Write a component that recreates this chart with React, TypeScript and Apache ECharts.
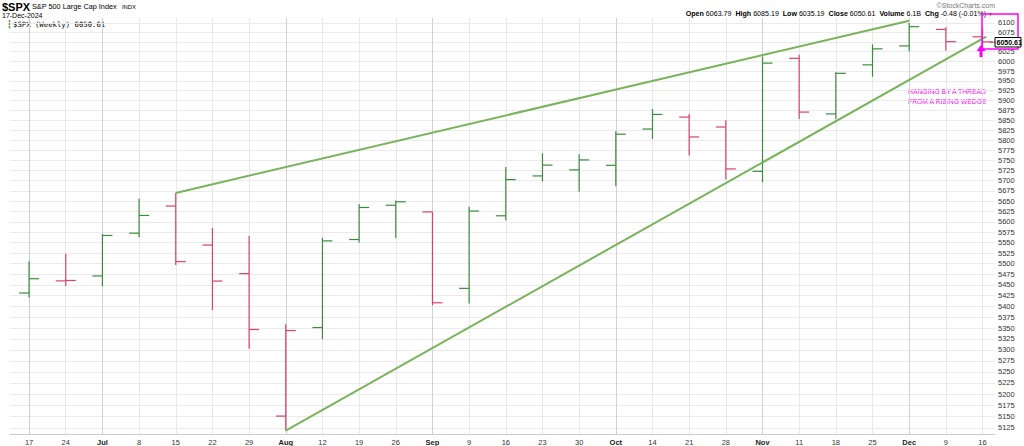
import React, { useEffect, useRef } from "react";
import * as echarts from "echarts";

const weekLabels = ["17","24","Jul","8","15","22","29","Aug","12","19","26","Sep","9","16","23","30","Oct","14","21","28","Nov","11","18","25","Dec","9","16"];
const monthStarts = ["Jul","Aug","Sep","Oct","Nov","Dec"];
const opens  = [5431.11,5459.58,5471.08,5572.75,5638.16,5544.32,5476.55,5151.14,5351.0,5557.5,5640.0,5623.89,5442.0,5614.5,5711.6,5726.4,5737.7,5828.0,5858.0,5833.0,5723.0,6008.0,5866.0,5991.0,6040.0,6083.0,6063.79];
const highs  = [5505.53,5523.64,5570.33,5655.56,5669.67,5585.5,5566.16,5358.6,5562.0,5643.2,5651.62,5623.89,5636.27,5733.57,5767.37,5765.1,5822.13,5878.46,5866.0,5850.0,6012.45,6017.31,5972.0,6044.17,6099.97,6088.51,6085.19];
const lows   = [5420.4,5447.25,5447.0,5563.0,5497.04,5390.95,5302.4,5119.26,5324.3,5550.5,5560.95,5402.62,5406.96,5603.0,5698.4,5673.0,5686.0,5803.0,5762.0,5702.6,5696.0,5853.0,5853.01,5960.5,6026.0,6028.0,6035.19];
const closes = [5464.62,5460.48,5567.19,5615.35,5505.0,5459.1,5346.56,5344.16,5554.25,5634.61,5648.4,5408.42,5626.02,5702.55,5738.17,5751.07,5815.03,5864.67,5808.12,5728.8,5995.54,5870.62,5969.34,6032.38,6090.27,6051.09,6050.61];
const prevWeekClose = 5431.6;
const upperWedge = [[4, 5670], [24, 6106]];
const lowerWedge = [[7, 5119.26], [26.1, 6064]];
const yTickValues = [5125,5150,5175,5200,5225,5250,5275,5300,5325,5350,5375,5400,5425,5450,5475,5500,5525,5550,5575,5600,5625,5650,5675,5700,5725,5750,5775,5800,5825,5850,5875,5900,5925,5950,5975,6000,6025,6050,6075,6100];
const yLabelValues = yTickValues.filter((v) => v !== 6050);
const lastClose = "6050.61";

const GREEN = "#3d8b3d";
const RED = "#d8426b";
const WEDGE = "#79b35a";
const MAGENTA = "#ff00ff";

export default function App() {
  const ref = useRef<HTMLDivElement>(null);
  useEffect(() => {
    const chart = echarts.init(ref.current!, null, { renderer: "svg" });
    const idx = weekLabels.map((_, i) => i);
    const bars = idx.map((i) => {
      const prev = i > 0 ? closes[i - 1] : prevWeekClose;
      return [i, opens[i], highs[i], lows[i], closes[i], closes[i] < prev ? 1 : 0];
    });
    const option: any = {
      animation: false,
      backgroundColor: "#ffffff",
      grid: { left: 10, right: 29, top: 18, bottom: 11 },
      xAxis: {
        type: "value",
        min: -0.52,
        max: 26.34,
        axisLine: { show: true, lineStyle: { color: "#cccccc" } },
        axisTick: { show: false, customValues: idx },
        axisLabel: {
          customValues: idx,
          fontSize: 7.5,
          color: "#333",
          fontFamily: "Liberation Sans",
          margin: 4,
          formatter: (v: number) => {
            const l = weekLabels[Math.round(v)];
            return monthStarts.includes(l) ? "{b|" + l + "}" : l;
          },
          rich: { b: { fontWeight: "bold", fontSize: 7.5, color: "#222", fontFamily: "Liberation Sans" } },
        },
        splitLine: {
          show: true,
          lineStyle: { color: weekLabels.map((l) => (monthStarts.includes(l) ? "#d2d2d2" : "#e8e8e8")), width: 1 },
        },
      },
      yAxis: {
        type: "log",
        logBase: 10,
        position: "right",
        min: 5111.6,
        max: 6113,
        axisLine: { show: true, lineStyle: { color: "#cccccc" } },
        axisTick: { show: false, customValues: yTickValues },
        axisLabel: {
          customValues: yLabelValues,
          fontSize: 7.5,
          color: "#333",
          fontFamily: "Liberation Sans",
          margin: 3,
          formatter: (v: number) => String(Math.round(v)),
        },
        splitLine: { show: true, lineStyle: { color: "#ebebeb", width: 1 } },
      },
      series: [
        {
          type: "custom",
          data: bars,
          clip: false,
          renderItem: (params: any, api: any) => {
            const x = api.coord([api.value(0), api.value(1)])[0];
            const yo = api.coord([api.value(0), api.value(1)])[1];
            const yh = api.coord([api.value(0), api.value(2)])[1];
            const yl = api.coord([api.value(0), api.value(3)])[1];
            const yc = api.coord([api.value(0), api.value(4)])[1];
            const color = api.value(5) ? RED : GREEN;
            const st = { stroke: color, lineWidth: 1.2 };
            return {
              type: "group",
              children: [
                { type: "line", shape: { x1: x, y1: yh, x2: x, y2: yl }, style: st },
                { type: "line", shape: { x1: x - 10, y1: yo, x2: x, y2: yo }, style: st },
                { type: "line", shape: { x1: x, y1: yc, x2: x + 10, y2: yc }, style: st },
              ],
            };
          },
          z: 3,
        },
        { type: "line", data: upperWedge, symbol: "none", lineStyle: { color: WEDGE, width: 2 }, z: 4 },
        { type: "line", data: lowerWedge, symbol: "none", lineStyle: { color: WEDGE, width: 2 }, z: 4 },
      ],
      graphic: [
        { type: "text", left: 2, top: 1, style: { text: "$SPX", font: "bold 11px Liberation Sans", fill: "#000" } },
        { type: "text", left: 32, top: 3, style: { text: "S&P 500 Large Cap Index", font: "7.3px Liberation Sans", fill: "#000" } },
        { type: "text", left: 122, top: 4, style: { text: "INDX", font: "5.8px Liberation Sans", fill: "#000" } },
        { type: "text", left: 2, top: 12, style: { text: "17-Dec-2024", font: "7px Liberation Sans", fill: "#000" } },
        { type: "text", left: 7, top: 20, style: { text: "\u2507", font: "8px DejaVu Sans", fill: GREEN } },
        { type: "text", left: 13, top: 20.5, style: { text: "$SPX (Weekly) 6050.61", font: "7.3px DejaVu Sans Mono", fill: "#000" } },
        { type: "text", right: 29, top: 2, style: { text: "\u00a9StockCharts.com", font: "7px Liberation Sans", fill: "#777" } },
        {
          type: "text", right: 31, top: 10,
          style: {
            text: "{b|Open} 6063.79  {b|High} 6085.19  {b|Low} 6035.19  {b|Close} 6050.61  {b|Volume} 6.1B  {b|Chg} -0.48 (-0.01%) {r|\u25bc}",
            fontSize: 7.1, fontFamily: "Liberation Sans", fill: "#000",
            rich: {
              b: { fontWeight: "bold", fontSize: 7.1, fontFamily: "Liberation Sans", fill: "#000" },
              r: { fill: "#d00", fontSize: 5, fontFamily: "Liberation Sans" },
            },
          },
        },
        { type: "text", left: 908, top: 87, style: { text: "HANGING BY A THREAD\nFROM A RISING WEDGE", font: "6.8px Liberation Sans", fill: MAGENTA, lineHeight: 9.7 } },
        { type: "rect", shape: { x: 982, y: 14, width: 36, height: 35 }, style: { fill: "none", stroke: MAGENTA, lineWidth: 1.5 }, z: 10 },
        { type: "polygon", shape: { points: [[981, 45], [985.5, 51], [982.5, 51], [982.5, 57], [979.5, 57], [979.5, 51], [976.5, 51]] }, style: { fill: MAGENTA }, z: 10 },
        { type: "line", shape: { x1: 990, y1: 42.3, x2: 995, y2: 42.3 }, style: { stroke: RED, lineWidth: 1 }, z: 10 },
        { type: "rect", shape: { x: 995, y: 37.5, width: 26, height: 9.5 }, style: { fill: "#fff", stroke: "#000", lineWidth: 1 }, z: 10 },
        { type: "text", left: 996.5, top: 38.5, style: { text: lastClose, font: "bold 7px Liberation Sans", fill: "#000" }, z: 11 },
      ],
    };
    chart.setOption(option);
    return () => chart.dispose();
  }, []);
  return <div ref={ref} style={{ width: 1024, height: 446, position: "absolute", left: 0, top: 0 }} />;
}
